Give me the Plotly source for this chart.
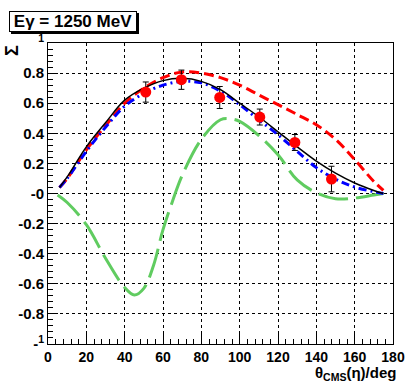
import plotly.graph_objects as go

# measured beam asymmetry points
theta_data = [51, 69.6, 89.6, 110.5, 128.8, 147.9]
sigma_data = [0.674, 0.756, 0.638, 0.508, 0.339, 0.096]
sigma_err = [0.067, 0.064, 0.073, 0.053, 0.053, 0.085]

# model curves
theta_curve = [6, 10, 20, 30, 40, 50, 60, 70, 80, 90, 100, 110, 120, 130, 140, 150, 160, 170, 175]
sigma_black = [0.04, 0.11, 0.31, 0.47, 0.62, 0.70, 0.75, 0.765, 0.745, 0.69, 0.60, 0.51, 0.41, 0.31, 0.215, 0.135, 0.07, 0.02, 0.0]
sigma_blue = [0.04, 0.10, 0.28, 0.44, 0.58, 0.665, 0.72, 0.745, 0.735, 0.68, 0.59, 0.49, 0.39, 0.28, 0.172, 0.095, 0.043, 0.012, 0.0]
sigma_red = [0.04, 0.10, 0.29, 0.45, 0.60, 0.70, 0.77, 0.808, 0.80, 0.77, 0.72, 0.655, 0.59, 0.525, 0.457, 0.36, 0.225, 0.08, 0.02]

theta_green = [5, 10, 20, 30, 40, 45, 50, 55, 60, 65, 70, 80, 90, 95, 100, 110, 120, 130, 140, 150, 160, 170, 175]
sigma_green = [-0.01, -0.06, -0.207, -0.43, -0.625, -0.675, -0.63, -0.48, -0.24, -0.05, 0.12, 0.36, 0.49, 0.497, 0.479, 0.385, 0.258, 0.09, 0.005, -0.035, -0.03, -0.01, 0.0]

x_ticks = [0, 20, 40, 60, 80, 100, 120, 140, 160, 180]
y_ticks = [1, 0.8, 0.6, 0.4, 0.2, 0, -0.2, -0.4, -0.6, -0.8, -1]
y_ticktext = ["<sup>1</sup>", "0.8", "0.6", "0.4", "0.2", "-0", "-0.2", "-0.4", "-0.6", "-0.8", "-<sup>1</sup>"]

FONT = "Liberation Sans"
W, H = 409, 386
L, R, T, B = 48, 16, 43, 42
pw, ph = W - L - R, H - T - B


def px(x):
    return (x - L) / pw


def py(y):
    return (H - B - y) / ph


fig = go.Figure()
fig.add_trace(go.Scatter(x=theta_green, y=sigma_green, mode="lines", line_shape="spline",
                         line=dict(color="rgb(96,204,96)", width=3, dash="30px,8px")))
fig.add_trace(go.Scatter(x=theta_curve, y=sigma_red, mode="lines", line_shape="spline",
                         line=dict(color="red", width=3, dash="10px,5px")))
fig.add_trace(go.Scatter(x=theta_curve, y=sigma_blue, mode="lines", line_shape="spline",
                         line=dict(color="blue", width=3, dash="8px,4px,2px,4px")))
fig.add_trace(go.Scatter(x=theta_curve, y=sigma_black, mode="lines", line_shape="spline",
                         line=dict(color="black", width=1.5)))
fig.add_trace(go.Scatter(x=theta_data, y=sigma_data, mode="markers",
                         marker=dict(color="red", size=11),
                         error_y=dict(type="data", array=sigma_err, color="black", thickness=1, width=3)))

axis_common = dict(
    ticks="inside", tickcolor="black", ticklen=10, tickwidth=1,
    showline=True, linecolor="black", linewidth=1, mirror=True,
    showgrid=True, gridcolor="black", griddash="dot", gridwidth=1,
    zeroline=False, automargin=False,
)

fig.update_xaxes(range=[0, 180], tickvals=x_ticks,
                 tickfont=dict(family=FONT, size=14, color="black", weight="bold"),
                 minor=dict(ticks="inside", dtick=4, ticklen=5, tickcolor="black", showgrid=False),
                 **axis_common)
fig.update_yaxes(range=[-1, 1], tickvals=y_ticks, ticktext=y_ticktext,
                 tickfont=dict(family=FONT, size=15, color="black", weight="bold"),
                 minor=dict(ticks="inside", dtick=0.04, ticklen=5, tickcolor="black", showgrid=False),
                 **axis_common)

# title box shadow
fig.add_shape(type="rect", xref="paper", yref="paper",
              x0=px(11), x1=px(139), y0=py(34), y1=py(13),
              fillcolor="black", line=dict(width=0), layer="above")

fig.update_layout(
    width=W, height=H,
    margin=dict(l=L, r=R, t=T, b=B),
    plot_bgcolor="white", paper_bgcolor="white",
    showlegend=False,
    annotations=[
        dict(text="<b>Eγ = 1250 MeV</b>", xref="paper", yref="paper",
             x=px(73), y=py(21.5), xanchor="center", yanchor="middle", showarrow=False,
             width=124, height=17, borderpad=1,
             bordercolor="black", borderwidth=1, bgcolor="white",
             font=dict(family=FONT, size=17, color="black")),
        dict(text="<b>Σ</b>", xref="paper", yref="paper",
             x=px(12), y=py(51), xanchor="center", yanchor="middle", showarrow=False, textangle=-90,
             font=dict(family=FONT, size=18, color="black")),
        dict(text="<b>θ<sub>CMS</sub>(η)/deg</b>", xref="paper", yref="paper",
             x=px(398), y=py(362), xanchor="right", yanchor="top", showarrow=False,
             font=dict(family=FONT, size=15, color="black")),
    ],
)

fig.write_html("out.html", config={"displayModeBar": False},
               post_script="document.body.style.margin = '0';")
